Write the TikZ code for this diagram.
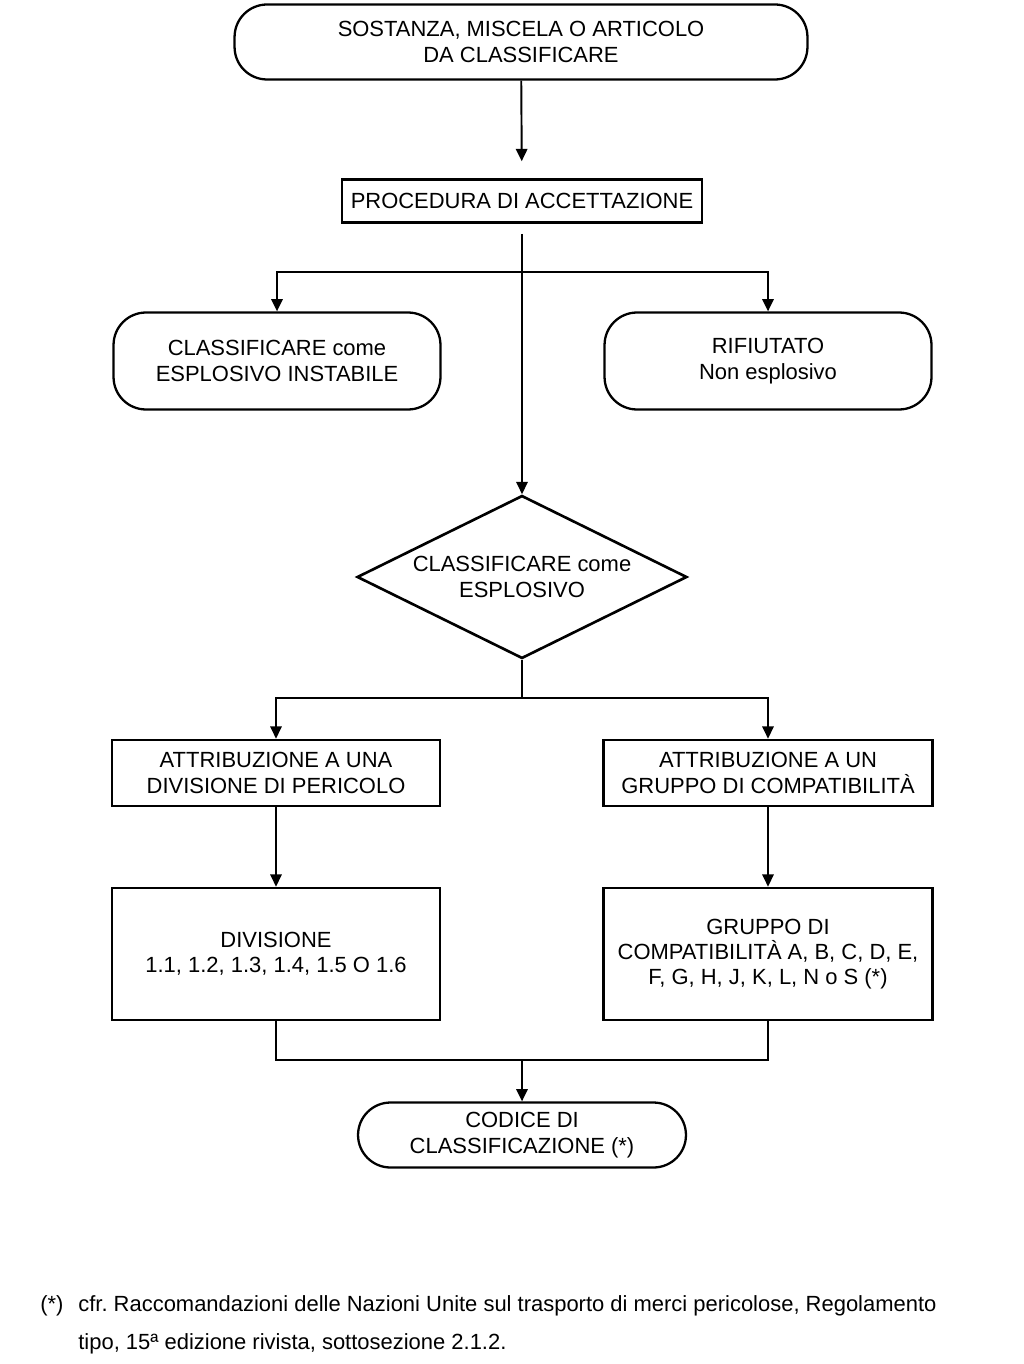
\documentclass[tikz,border=0pt]{standalone}
\usepackage{fontspec}
\setmainfont{Liberation Sans}
\usetikzlibrary{shapes.geometric, positioning, arrows.meta}
\frenchspacing

\begin{document}
\begin{tikzpicture}[x=0.02cm, y=-0.02cm,
          term/.style={rectangle, rounded corners=0.65cm, draw, line width=1.3pt,
                       inner sep=0pt, align=center, font=\fontsize{12.5}{14.4}\selectfont},
          pbox/.style={rectangle, draw, line width=1.5pt, inner sep=0pt,
                       align=center, font=\fontsize{12.5}{14.4}\selectfont},
          dec/.style={diamond, draw, line width=1.5pt, inner sep=0pt, aspect=2,
                      align=center, font=\fontsize{12.5}{14.4}\selectfont},
          note/.style={anchor=base west, inner sep=0pt, font=\fontsize{12.5}{14.4}\selectfont},
          arr/.style={-{Triangle[length=7pt, width=6.5pt]}, line width=1.1pt},
          lin/.style={line width=1.1pt}
        ]
        \useasboundingbox (0,0) rectangle (1023,1364);

        \node[term, minimum width=11.46cm, minimum height=1.5cm]
              (src) at (521, 42) {SOSTANZA, MISCELA O ARTICOLO\\DA CLASSIFICARE};
        \node[pbox, minimum width=7.2cm, minimum height=0.86cm]
              (proc) at (522, 201) {PROCEDURA DI ACCETTAZIONE};

        \node[term, minimum width=6.54cm, minimum height=1.94cm]
              (inst) at (277, 361) {CLASSIFICARE come\\ESPLOSIVO INSTABILE};
        \node[term, minimum width=6.54cm, minimum height=1.94cm]
              (rif) at (768, 361) {RIFIUTATO\\Non esplosivo};

        \node[dec, minimum width=6.6cm, minimum height=3.26cm]
              (esp) at (522, 577) {CLASSIFICARE come\\ESPLOSIVO};

        \node[pbox, minimum width=6.56cm, minimum height=1.32cm]
              (attd) at (276, 773) {ATTRIBUZIONE A UNA\\DIVISIONE DI PERICOLO};
        \node[pbox, minimum width=6.58cm, minimum height=1.32cm]
              (attg) at (768, 773) {ATTRIBUZIONE A UN\\GRUPPO DI COMPATIBILITÀ};

        \node[pbox, minimum width=6.56cm, minimum height=2.64cm]
              (div) at (276, 954) {DIVISIONE\\1.1, 1.2, 1.3, 1.4, 1.5 O 1.6};
        \node[pbox, minimum width=6.58cm, minimum height=2.64cm]
              (grp) at (768, 954) {GRUPPO DI\\COMPATIBILITÀ A, B, C, D, E,\\F, G, H, J, K, L, N o S (*)};

        \node[term, minimum width=6.56cm, minimum height=1.3cm]
              (cod) at (522, 1135) {CODICE DI\\CLASSIFICAZIONE (*)};

        % junctions
        \coordinate (j1) at (522, 272);
        \coordinate (j2) at (522, 698);
        \coordinate (j3) at (522, 1060);

        \draw[arr, shorten >=0.34cm] (src) -- (proc);
        \draw[arr, shorten <=0.2cm] (proc) -- (esp);
        \draw[arr] (j1) -| (inst);
        \draw[arr] (j1) -| (rif);

        \draw[lin] (esp.south) -- (j2);
        \draw[arr] (j2) -| (attd);
        \draw[arr] (j2) -| (attg);

        \draw[arr] (attd) -- (div);
        \draw[arr] (attg) -- (grp);

        \draw[lin] (div.south) |- (j3) -| (grp.south);
        \draw[arr] (j3) -- (cod);

        % nota
        \node[note] (fnm) at (40, 1311) {(*)};
        \node[note] (fn1) at (78, 1311) {cfr. Raccomandazioni delle Nazioni Unite sul trasporto di merci pericolose, Regolamento};
        \node[note] (fn2) at (78, 1349) {tipo, 15ª edizione rivista, sottosezione 2.1.2.};
      \end{tikzpicture}
\end{document}
